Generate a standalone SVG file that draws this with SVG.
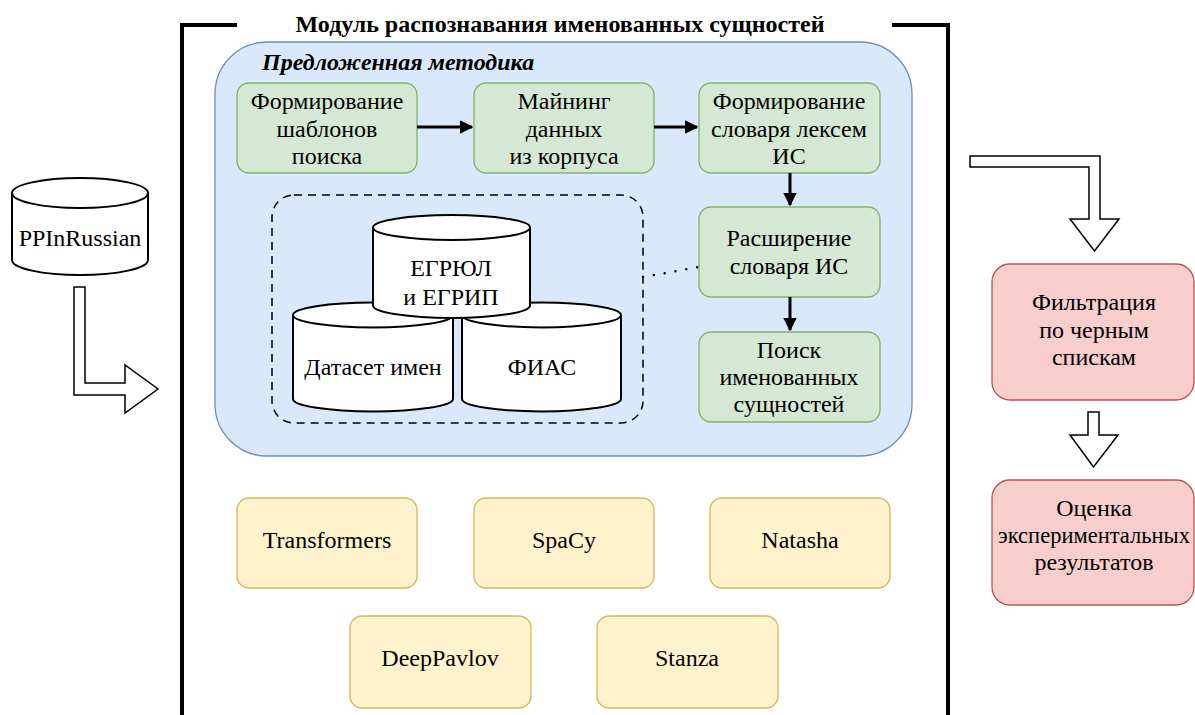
<svg xmlns="http://www.w3.org/2000/svg" width="1195" height="715" viewBox="0 0 1195 715" font-family="Liberation Serif, Tinos, Noto Serif, DejaVu Serif, serif">
<defs>
<style>
text{font-size:24px;fill:#000;text-anchor:middle}
.title{font-weight:bold;font-size:24px}
.sub{font-weight:bold;font-style:italic;font-size:24px;text-anchor:start}
.tight{font-size:22.5px}
.g{fill:#d5e8d4;stroke:#82b366;stroke-width:1.3}
.y{fill:#fff2cc;stroke:#d6b656;stroke-width:1.3}
.r{fill:#f8cecc;stroke:#b85450;stroke-width:1.3}
.cyl{fill:#fff;stroke:#000;stroke-width:2}
.cylf{fill:none;stroke:#000;stroke-width:2}
.hol{fill:#fff;stroke:#000;stroke-width:1.5;stroke-linejoin:miter}
.edge{stroke:#000;stroke-width:3;fill:none}
</style>
<marker id="ah" viewBox="0 0 10 10" refX="9" refY="5" markerWidth="4.5" markerHeight="4.5" orient="auto" markerUnits="strokeWidth">
<path d="M0,0 L10,5 L0,10 z" fill="#000"/>
</marker>
</defs>

<g id="frame">
<path d="M182,715 V25 H237" fill="none" stroke="#000" stroke-width="4"/>
<path d="M892,25 H948 V715" fill="none" stroke="#000" stroke-width="4"/>
<text class="title" x="560" y="32">Модуль распознавания именованных сущностей</text>
</g>

<g id="method">
<rect x="215" y="42" width="697" height="414" rx="52" ry="52" fill="#dae8fc" stroke="#6c8ebf" stroke-width="1.3"/>
<text class="sub" x="262" y="70">Предложенная методика</text>
</g>

<g id="sources-group">
<rect x="272" y="195" width="371" height="228" rx="22" ry="22" fill="none" stroke="#000" stroke-width="1.5" stroke-dasharray="8 6"/>
</g>

<g id="dataset">
<path class="cyl" d="M293,315 a80,12.5 0 0 1 160,0 v84 a80,12.5 0 0 1 -160,0 z"/>
<path class="cylf" d="M293,315 a80,12.5 0 0 0 160,0"/>
<text x="373" y="375">Датасет имен</text>
</g>
<g id="fias">
<path class="cyl" d="M462,315 a79.5,12.5 0 0 1 159,0 v84 a79.5,12.5 0 0 1 -159,0 z"/>
<path class="cylf" d="M462,315 a79.5,12.5 0 0 0 159,0"/>
<text x="542" y="375">ФИАС</text>
</g>
<g id="egrul">
<path class="cyl" d="M373,227.5 a78.5,12.5 0 0 1 157,0 v78 a78.5,12.5 0 0 1 -157,0 z"/>
<path class="cylf" d="M373,227.5 a78.5,12.5 0 0 0 157,0"/>
<text x="451" y="276">ЕГРЮЛ</text>
<text x="451" y="305">и ЕГРИП</text>
</g>

<g id="ppinrussian">
<path class="cyl" d="M12,193 a68,15 0 0 1 136,0 v67 a68,15 0 0 1 -136,0 z"/>
<path class="cylf" d="M12,193 a68,15 0 0 0 136,0"/>
<text x="80" y="246">PPInRussian</text>
</g>

<g id="n-templates">
<rect class="g" x="237" y="83" width="180" height="90" rx="12"/>
<text x="327" y="109">Формирование</text>
<text x="327" y="137">шаблонов</text>
<text x="327" y="164">поиска</text>
</g>
<g id="n-mining">
<rect class="g" x="474" y="83" width="180" height="90" rx="12"/>
<text x="564" y="109">Майнинг</text>
<text x="564" y="137">данных</text>
<text x="564" y="164">из корпуса</text>
</g>
<g id="n-dict">
<rect class="g" x="699" y="83" width="181" height="90" rx="12"/>
<text x="789" y="109">Формирование</text>
<text x="789" y="137">словаря лексем</text>
<text x="789" y="164">ИС</text>
</g>
<g id="n-expand">
<rect class="g" x="699" y="207" width="181" height="90" rx="12"/>
<text x="789" y="246">Расширение</text>
<text x="789" y="274">словаря ИС</text>
</g>
<g id="n-search">
<rect class="g" x="699" y="332" width="181" height="90" rx="12"/>
<text x="789" y="358">Поиск</text>
<text x="789" y="385">именованных</text>
<text x="789" y="412">сущностей</text>
</g>

<g id="n-transformers">
<rect class="y" x="237" y="498" width="180" height="90" rx="12"/>
<text x="327" y="548">Transformers</text>
</g>
<g id="n-spacy">
<rect class="y" x="474" y="498" width="180" height="90" rx="12"/>
<text x="564" y="548">SpaCy</text>
</g>
<g id="n-natasha">
<rect class="y" x="710" y="498" width="180" height="90" rx="12"/>
<text x="800" y="548">Natasha</text>
</g>
<g id="n-deeppavlov">
<rect class="y" x="350" y="616" width="181" height="92" rx="12"/>
<text x="440" y="666">DeepPavlov</text>
</g>
<g id="n-stanza">
<rect class="y" x="597" y="616" width="181" height="92" rx="12"/>
<text x="687" y="666">Stanza</text>
</g>

<g id="n-filter">
<rect class="r" x="992" y="264" width="202" height="136" rx="18"/>
<text x="1094" y="310">Фильтрация</text>
<text x="1094" y="338">по черным</text>
<text x="1094" y="365">спискам</text>
</g>
<g id="n-eval">
<rect class="r" x="992" y="480" width="202" height="125" rx="18"/>
<text x="1094" y="516">Оценка</text>
<text class="tight" x="1094" y="543">экспериментальных</text>
<text x="1094" y="570">результатов</text>
</g>

<g id="connectors">
<line class="edge" x1="417" y1="127" x2="472" y2="127" marker-end="url(#ah)"/>
<line class="edge" x1="654" y1="127" x2="697" y2="127" marker-end="url(#ah)"/>
<line class="edge" x1="790" y1="173" x2="790" y2="205" marker-end="url(#ah)"/>
<line class="edge" x1="790" y1="297" x2="790" y2="330" marker-end="url(#ah)"/>
<path d="M643,277 L699,267" fill="none" stroke="#000" stroke-width="2.5" stroke-linecap="round" stroke-dasharray="0 11"/>
<path class="hol" d="M74,287 H85 V383 H125 V365 L158,389 L125,413 V395 H74 Z"/>
<path class="hol" d="M970,156 H1100 V219 H1119 L1094.5,251 L1070,219 H1089 V167 H970 Z"/>
<path class="hol" d="M1088,412 H1099 V435 H1118 L1093.5,467 L1070,435 H1088 Z"/>
</g>
</svg>
